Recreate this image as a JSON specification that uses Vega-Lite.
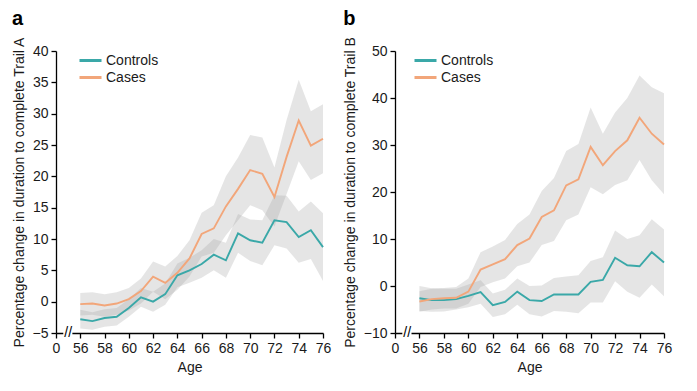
{
  "$schema": "https://vega.github.io/schema/vega-lite/v6.json",
  "padding": {"left": 12, "top": 8, "right": 5, "bottom": 5},
  "config": {
    "font": "Liberation Sans",
    "view": {"stroke": null},
    "axis": {"domainColor": "#000", "tickColor": "#000", "labelColor": "#1a1a1a", "titleColor": "#1a1a1a", "labelFontSize": 14, "titleFontSize": 14, "titleFontWeight": "normal", "grid": false, "tickSize": 5, "labelPadding": 3, "domainWidth": 1.3, "tickWidth": 1.3, "labelOverlap": false, "labelBound": false, "labelFlush": false},
    "title": {"fontSize": 20, "fontWeight": "bold", "anchor": "start", "frame": "bounds", "offset": 8, "color": "#000"},
    "legend": {"labelFontSize": 14, "labelColor": "#1a1a1a"},
    "concat": {"spacing": 12}
  },
  "datasets": {
    "a": [
      {"group": "Controls", "age": 56, "mean": -2.8, "lo": -4.3, "hi": -1.3},
      {"group": "Controls", "age": 57, "mean": -3.1, "lo": -4.5, "hi": -1.7},
      {"group": "Controls", "age": 58, "mean": -2.6, "lo": -4.0, "hi": -1.2},
      {"group": "Controls", "age": 59, "mean": -2.4, "lo": -3.8, "hi": -1.0},
      {"group": "Controls", "age": 60, "mean": -1.0, "lo": -2.4, "hi": 0.4},
      {"group": "Controls", "age": 61, "mean": 0.7, "lo": -0.8, "hi": 2.2},
      {"group": "Controls", "age": 62, "mean": 0.0, "lo": -1.6, "hi": 1.6},
      {"group": "Controls", "age": 63, "mean": 1.2, "lo": -0.5, "hi": 2.9},
      {"group": "Controls", "age": 64, "mean": 4.2, "lo": 2.3, "hi": 6.1},
      {"group": "Controls", "age": 65, "mean": 5.0, "lo": 3.0, "hi": 7.0},
      {"group": "Controls", "age": 66, "mean": 6.0, "lo": 3.8, "hi": 8.2},
      {"group": "Controls", "age": 67, "mean": 7.5, "lo": 5.0, "hi": 10.0},
      {"group": "Controls", "age": 68, "mean": 6.6, "lo": 3.8, "hi": 9.4},
      {"group": "Controls", "age": 69, "mean": 10.9, "lo": 7.8, "hi": 14.0},
      {"group": "Controls", "age": 70, "mean": 9.8, "lo": 6.5, "hi": 13.1},
      {"group": "Controls", "age": 71, "mean": 9.4, "lo": 5.8, "hi": 13.0},
      {"group": "Controls", "age": 72, "mean": 13.0, "lo": 9.0, "hi": 17.0},
      {"group": "Controls", "age": 73, "mean": 12.7, "lo": 8.5, "hi": 16.9},
      {"group": "Controls", "age": 74, "mean": 10.3, "lo": 6.2, "hi": 14.4},
      {"group": "Controls", "age": 75, "mean": 11.4, "lo": 6.8, "hi": 16.0},
      {"group": "Controls", "age": 76, "mean": 8.7, "lo": 3.3, "hi": 14.1},
      {"group": "Cases", "age": 56, "mean": -0.4, "lo": -2.2, "hi": 1.4},
      {"group": "Cases", "age": 57, "mean": -0.3, "lo": -2.1, "hi": 1.5},
      {"group": "Cases", "age": 58, "mean": -0.6, "lo": -2.4, "hi": 1.2},
      {"group": "Cases", "age": 59, "mean": -0.3, "lo": -2.1, "hi": 1.5},
      {"group": "Cases", "age": 60, "mean": 0.4, "lo": -1.4, "hi": 2.2},
      {"group": "Cases", "age": 61, "mean": 1.7, "lo": -0.3, "hi": 3.7},
      {"group": "Cases", "age": 62, "mean": 4.0, "lo": 1.6, "hi": 6.4},
      {"group": "Cases", "age": 63, "mean": 3.0, "lo": 0.4, "hi": 5.6},
      {"group": "Cases", "age": 64, "mean": 4.6, "lo": 1.9, "hi": 7.3},
      {"group": "Cases", "age": 65, "mean": 6.9, "lo": 4.0, "hi": 9.8},
      {"group": "Cases", "age": 66, "mean": 10.8, "lo": 7.2, "hi": 14.2},
      {"group": "Cases", "age": 67, "mean": 11.7, "lo": 7.8, "hi": 15.4},
      {"group": "Cases", "age": 68, "mean": 15.2, "lo": 10.6, "hi": 20.0},
      {"group": "Cases", "age": 69, "mean": 18.0, "lo": 13.0, "hi": 23.0},
      {"group": "Cases", "age": 70, "mean": 21.0, "lo": 15.4, "hi": 26.6},
      {"group": "Cases", "age": 71, "mean": 20.4, "lo": 14.6, "hi": 26.2},
      {"group": "Cases", "age": 72, "mean": 16.7, "lo": 12.0, "hi": 21.4},
      {"group": "Cases", "age": 73, "mean": 23.1, "lo": 17.2, "hi": 29.0},
      {"group": "Cases", "age": 74, "mean": 28.9, "lo": 22.4, "hi": 35.4},
      {"group": "Cases", "age": 75, "mean": 24.9, "lo": 19.4, "hi": 30.4},
      {"group": "Cases", "age": 76, "mean": 26.0, "lo": 20.5, "hi": 31.5}
    ],
    "b": [
      {"group": "Controls", "age": 56, "mean": -2.6, "lo": -5.3, "hi": 0.0},
      {"group": "Controls", "age": 57, "mean": -3.0, "lo": -5.5, "hi": -0.5},
      {"group": "Controls", "age": 58, "mean": -3.0, "lo": -5.4, "hi": -0.6},
      {"group": "Controls", "age": 59, "mean": -2.8, "lo": -5.0, "hi": -0.6},
      {"group": "Controls", "age": 60, "mean": -2.1, "lo": -4.5, "hi": 0.3},
      {"group": "Controls", "age": 61, "mean": -1.3, "lo": -3.8, "hi": 1.2},
      {"group": "Controls", "age": 62, "mean": -4.1, "lo": -6.6, "hi": -1.6},
      {"group": "Controls", "age": 63, "mean": -3.4, "lo": -6.0, "hi": -0.8},
      {"group": "Controls", "age": 64, "mean": -1.2, "lo": -4.0, "hi": 1.6},
      {"group": "Controls", "age": 65, "mean": -3.0, "lo": -6.0, "hi": 0.0},
      {"group": "Controls", "age": 66, "mean": -3.2, "lo": -6.5, "hi": 0.1},
      {"group": "Controls", "age": 67, "mean": -1.8, "lo": -5.3, "hi": 1.7},
      {"group": "Controls", "age": 68, "mean": -1.8, "lo": -5.5, "hi": 2.0},
      {"group": "Controls", "age": 69, "mean": -1.8, "lo": -5.8, "hi": 2.3},
      {"group": "Controls", "age": 70, "mean": 0.9, "lo": -3.5, "hi": 5.3},
      {"group": "Controls", "age": 71, "mean": 1.3, "lo": -3.5, "hi": 6.1},
      {"group": "Controls", "age": 72, "mean": 6.0, "lo": 1.0, "hi": 11.8},
      {"group": "Controls", "age": 73, "mean": 4.4, "lo": -1.2, "hi": 10.0},
      {"group": "Controls", "age": 74, "mean": 4.2, "lo": -2.5, "hi": 10.8},
      {"group": "Controls", "age": 75, "mean": 7.2, "lo": 0.3, "hi": 14.2},
      {"group": "Controls", "age": 76, "mean": 5.0, "lo": -2.2, "hi": 12.0},
      {"group": "Cases", "age": 56, "mean": -3.3, "lo": -5.5, "hi": -1.1},
      {"group": "Cases", "age": 57, "mean": -2.8, "lo": -5.0, "hi": -0.6},
      {"group": "Cases", "age": 58, "mean": -2.6, "lo": -4.8, "hi": -0.4},
      {"group": "Cases", "age": 59, "mean": -2.5, "lo": -4.8, "hi": -0.2},
      {"group": "Cases", "age": 60, "mean": -1.2, "lo": -3.8, "hi": 1.6},
      {"group": "Cases", "age": 61, "mean": 3.5, "lo": -0.2, "hi": 7.2},
      {"group": "Cases", "age": 62, "mean": 4.6, "lo": 0.8, "hi": 8.4},
      {"group": "Cases", "age": 63, "mean": 5.7, "lo": 1.6, "hi": 9.8},
      {"group": "Cases", "age": 64, "mean": 8.7, "lo": 4.2, "hi": 13.2},
      {"group": "Cases", "age": 65, "mean": 10.1, "lo": 5.0, "hi": 15.2},
      {"group": "Cases", "age": 66, "mean": 14.7, "lo": 8.7, "hi": 20.2},
      {"group": "Cases", "age": 67, "mean": 16.1, "lo": 9.6, "hi": 23.0},
      {"group": "Cases", "age": 68, "mean": 21.4, "lo": 14.0, "hi": 28.7},
      {"group": "Cases", "age": 69, "mean": 22.7, "lo": 15.2, "hi": 30.2},
      {"group": "Cases", "age": 70, "mean": 29.6, "lo": 21.0, "hi": 38.0},
      {"group": "Cases", "age": 71, "mean": 25.7, "lo": 19.5, "hi": 32.4},
      {"group": "Cases", "age": 72, "mean": 28.7, "lo": 21.5, "hi": 36.9},
      {"group": "Cases", "age": 73, "mean": 31.0, "lo": 22.5, "hi": 40.0},
      {"group": "Cases", "age": 74, "mean": 35.8, "lo": 26.8, "hi": 44.8},
      {"group": "Cases", "age": 75, "mean": 32.4, "lo": 22.5, "hi": 42.3},
      {"group": "Cases", "age": 76, "mean": 30.1, "lo": 19.5, "hi": 41.0}
    ],
    "brk": [
      {"panel": "a", "x1": 54.6, "x2": 55.35, "x": 55.0, "y": -5, "t": "//"},
      {"panel": "b", "x1": 54.6, "x2": 55.35, "x": 55.0, "y": -10, "t": "//"}
    ]
  },
  "hconcat": [
    {
      "width": 267,
      "height": 282,
      "title": {"text": "a"},
      "layer": [
        {
          "data": {"name": "a"},
          "mark": {"type": "area", "color": "#a0a0a0", "opacity": 0.28},
          "encoding": {
            "x": {"field": "age", "type": "quantitative", "scale": {"domain": [54, 76], "nice": false, "zero": false},
                  "axis": {"title": "Age", "values": [54, 56, 58, 60, 62, 64, 66, 68, 70, 72, 74, 76], "tickCount": 30, "labelExpr": "datum.value == 54 ? '0' : datum.label", "titlePadding": 5, "labelOverlap": false, "labelFlush": false}},
            "y": {"field": "lo", "type": "quantitative", "scale": {"domain": [-5, 40], "nice": false, "zero": false},
                  "axis": {"title": "Percentage change in duration to complete Trail A", "values": [-5, 0, 5, 10, 15, 20, 25, 30, 35, 40], "tickCount": 30, "titlePadding": 6, "labelOverlap": false, "labelFlush": false}},
            "y2": {"field": "hi"},
            "detail": {"field": "group"}
          }
        },
        {
          "data": {"name": "a"},
          "mark": {"type": "line", "strokeWidth": 1.9},
          "encoding": {
            "x": {"field": "age", "type": "quantitative"},
            "y": {"field": "mean", "type": "quantitative"},
            "color": {"field": "group", "type": "nominal", "sort": ["Controls", "Cases"],
                      "scale": {"domain": ["Controls", "Cases"], "range": ["#3aa8a8", "#f2a67a"]},
                      "legend": {"title": null, "orient": "none", "legendX": 22, "legendY": 2, "symbolType": "stroke", "symbolSize": 484, "symbolStrokeWidth": 3, "clipHeight": 15, "rowPadding": 2, "labelOffset": 3, "padding": 0}}
          }
        },
        {
          "data": {"name": "brk"},
          "transform": [{"filter": "datum.panel === 'a'"}],
          "mark": {"type": "rule", "color": "white", "strokeWidth": 4},
          "encoding": {"x": {"field": "x1", "type": "quantitative"}, "x2": {"field": "x2"}, "y": {"field": "y", "type": "quantitative"}}
        },
        {
          "data": {"name": "brk"},
          "transform": [{"filter": "datum.panel === 'a'"}],
          "mark": {"type": "text", "fontSize": 14, "color": "#000", "baseline": "middle", "align": "center"},
          "encoding": {"x": {"field": "x", "type": "quantitative"}, "y": {"field": "y", "type": "quantitative"}, "text": {"field": "t"}}
        }
      ]
    },
    {
      "width": 269,
      "height": 282,
      "title": {"text": "b"},
      "layer": [
        {
          "data": {"name": "b"},
          "mark": {"type": "area", "color": "#a0a0a0", "opacity": 0.28},
          "encoding": {
            "x": {"field": "age", "type": "quantitative", "scale": {"domain": [54, 76], "nice": false, "zero": false},
                  "axis": {"title": "Age", "values": [54, 56, 58, 60, 62, 64, 66, 68, 70, 72, 74, 76], "tickCount": 30, "labelExpr": "datum.value == 54 ? '0' : datum.label", "titlePadding": 5, "labelOverlap": false, "labelFlush": false}},
            "y": {"field": "lo", "type": "quantitative", "scale": {"domain": [-10, 50], "nice": false, "zero": false},
                  "axis": {"title": "Percentage change in duration to complete Trail B", "values": [-10, 0, 10, 20, 30, 40, 50], "tickCount": 30, "titlePadding": 6, "labelOverlap": false, "labelFlush": false}},
            "y2": {"field": "hi"},
            "detail": {"field": "group"}
          }
        },
        {
          "data": {"name": "b"},
          "mark": {"type": "line", "strokeWidth": 1.9},
          "encoding": {
            "x": {"field": "age", "type": "quantitative"},
            "y": {"field": "mean", "type": "quantitative"},
            "color": {"field": "group", "type": "nominal", "sort": ["Controls", "Cases"],
                      "scale": {"domain": ["Controls", "Cases"], "range": ["#3aa8a8", "#f2a67a"]},
                      "legend": {"title": null, "orient": "none", "legendX": 18, "legendY": 2, "symbolType": "stroke", "symbolSize": 484, "symbolStrokeWidth": 3, "clipHeight": 15, "rowPadding": 2, "labelOffset": 3, "padding": 0}}
          }
        },
        {
          "data": {"name": "brk"},
          "transform": [{"filter": "datum.panel === 'b'"}],
          "mark": {"type": "rule", "color": "white", "strokeWidth": 4},
          "encoding": {"x": {"field": "x1", "type": "quantitative"}, "x2": {"field": "x2"}, "y": {"field": "y", "type": "quantitative"}}
        },
        {
          "data": {"name": "brk"},
          "transform": [{"filter": "datum.panel === 'b'"}],
          "mark": {"type": "text", "fontSize": 14, "color": "#000", "baseline": "middle", "align": "center"},
          "encoding": {"x": {"field": "x", "type": "quantitative"}, "y": {"field": "y", "type": "quantitative"}, "text": {"field": "t"}}
        }
      ]
    }
  ],
  "resolve": {"scale": {"color": "independent"}, "legend": {"color": "independent"}}
}
